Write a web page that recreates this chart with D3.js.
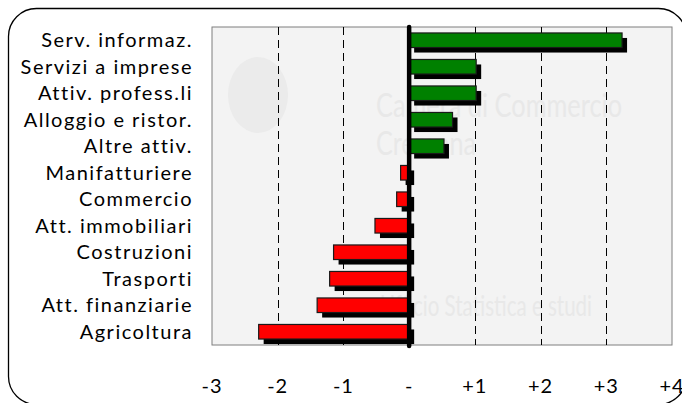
<!DOCTYPE html>
<html>
<head>
<meta charset="utf-8">
<script src="https://cdnjs.cloudflare.com/ajax/libs/d3/7.8.5/d3.min.js"></script>
<style>
  body { margin: 0; background: #fff; }
  svg { display: block; }
  text { font-family: Lato, "Open Sans", sans-serif; }
</style>
</head>
<body>
<div id="chart"></div>
<script>
// sectors, top to bottom
let categories = ["Serv. informaz.", "Servizi a imprese", "Attiv. profess.li", "Alloggio e ristor.",
    "Altre attiv.", "Manifatturiere", "Commercio", "Att. immobiliari", "Costruzioni",
    "Trasporti", "Att. finanziarie", "Agricoltura"];
let values = [3.24, 1.02, 1.02, 0.66, 0.53, -0.13, -0.19, -0.52, -1.15, -1.21, -1.40, -2.29];
let tickValues = [-3, -2, -1, 0, 1, 2, 3, 4];
let tickLabels = ["-3", "-2", "-1", "-", "+1", "+2", "+3", "+4"];

let width = 682, height = 403;
let plot = {left: 212, right: 672, top: 27, bottom: 345};

let svg = d3.select("#chart").append("svg")
    .attr("width", width)
    .attr("height", height);

// outer rounded frame
svg.append("rect")
    .attr("x", 8.5).attr("y", 8.5)
    .attr("width", 678).attr("height", 396)
    .attr("rx", 28).attr("ry", 28)
    .attr("fill", "#fff")
    .attr("stroke", "#000")
    .attr("stroke-width", 1.3);

let x = d3.scaleLinear()
    .domain([-3, 4])
    .range([plot.left, plot.right]);

let y = d3.scaleBand()
    .domain(categories)
    .range([plot.top, plot.bottom])
    .paddingInner(0.45)
    .paddingOuter(0.225);

// plot background
svg.append("rect")
    .attr("x", plot.left).attr("y", plot.top)
    .attr("width", plot.right - plot.left)
    .attr("height", plot.bottom - plot.top)
    .attr("fill", "#f3f3f3")
    .attr("stroke", "#7f7f7f")
    .attr("stroke-width", 1);

// faint watermark (logo + office name)
let wm = svg.append("g").attr("fill", "#e8e8e8");
wm.append("ellipse")
    .attr("cx", 258).attr("cy", 95).attr("rx", 30).attr("ry", 38)
    .attr("fill", "#ebebeb");
wm.append("text").attr("x", 376).attr("y", 117)
    .attr("font-size", 32).attr("textLength", 246).attr("lengthAdjust", "spacingAndGlyphs")
    .text("Camera di Commercio");
wm.append("text").attr("x", 376).attr("y", 155)
    .attr("font-size", 32).attr("textLength", 100).attr("lengthAdjust", "spacingAndGlyphs")
    .text("Cremona");
wm.append("text").attr("x", 380).attr("y", 316)
    .attr("font-size", 28).attr("textLength", 212).attr("lengthAdjust", "spacingAndGlyphs")
    .text("Ufficio Statistica e studi");

// dashed gridlines
svg.append("g")
    .selectAll("line")
    .data(tickValues.filter(d => d != 0 && d > -3 && d < 4))
    .enter().append("line")
    .attr("x1", d => Math.round(x(d)) + 0.5)
    .attr("x2", d => Math.round(x(d)) + 0.5)
    .attr("y1", plot.top)
    .attr("y2", plot.bottom)
    .attr("stroke", "#000")
    .attr("stroke-width", 1)
    .attr("stroke-dasharray", "8,5");

let bars = svg.append("g")
    .selectAll("g")
    .data(categories)
    .enter().append("g");

// shadow under each bar
bars.append("rect")
    .attr("x", (d, i) => Math.min(x(0), x(values[i])) + 5)
    .attr("y", d => y(d) + 5)
    .attr("width", (d, i) => Math.abs(x(values[i]) - x(0)))
    .attr("height", y.bandwidth())
    .attr("fill", "#000");

bars.append("rect")
    .attr("x", (d, i) => Math.min(x(0), x(values[i])))
    .attr("y", d => y(d))
    .attr("width", (d, i) => Math.abs(x(values[i]) - x(0)))
    .attr("height", y.bandwidth())
    .attr("fill", (d, i) => values[i] >= 0 ? "#008000" : "#ff0000")
    .attr("stroke", "#1a1a1a")
    .attr("stroke-width", 1.2);

// zero axis
svg.append("line")
    .attr("x1", x(0)).attr("x2", x(0))
    .attr("y1", plot.top).attr("y2", plot.bottom + 1)
    .attr("stroke", "#000")
    .attr("stroke-width", 4.5)
    .attr("stroke-linecap", "round");

// category labels
svg.append("g")
    .selectAll("text")
    .data(categories)
    .enter().append("text")
    .attr("x", 193)
    .attr("y", d => y(d) + y.bandwidth() / 2)
    .attr("dy", "0.36em")
    .attr("text-anchor", "end")
    .attr("font-size", 20)
    .attr("letter-spacing", 1.5)
    .attr("fill", "#000")
    .text(d => d);

// x tick labels
svg.append("g")
    .selectAll("text")
    .data(tickValues)
    .enter().append("text")
    .attr("x", d => x(d))
    .attr("y", 393)
    .attr("text-anchor", "middle")
    .attr("font-size", 20)
    .attr("letter-spacing", 1)
    .attr("fill", "#000")
    .text((d, i) => tickLabels[i]);
</script>
</body>
</html>
